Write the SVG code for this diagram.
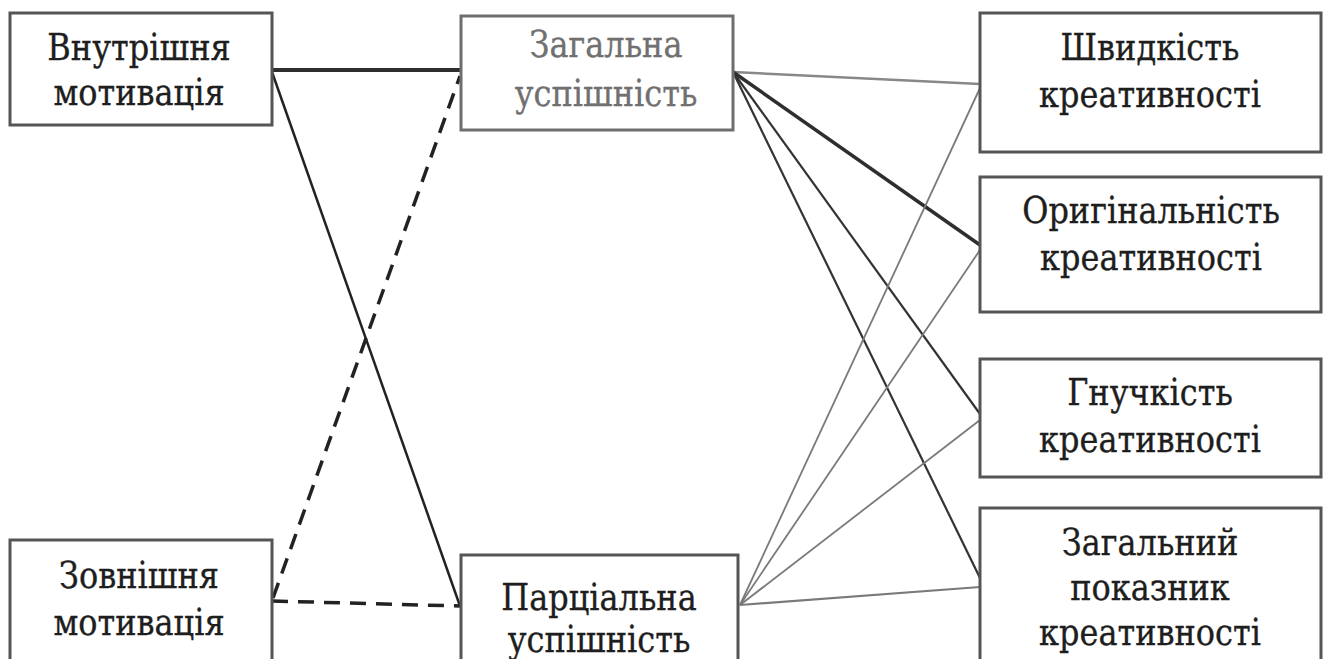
<svg xmlns="http://www.w3.org/2000/svg" width="1325" height="659" viewBox="0 0 1325 659">
  <style>
    .box { fill: #ffffff; stroke: #555555; stroke-width: 3; }
    .box-light { fill: #ffffff; stroke: #6e6e6e; stroke-width: 3; }
    .lbl { font-family: "DejaVu Serif", "Liberation Serif", serif; font-size: 32px; fill: #1e1e1e; text-anchor: middle; stroke: #1e1e1e; stroke-width: 0.3; }
    .lbl-grey { fill: #707070; stroke: #707070; }
    .thick { stroke: #2e2e2e; stroke-width: 4; fill: none; }
    .solid { stroke: #222222; stroke-width: 2.5; fill: none; }
    .dash { stroke: #222222; stroke-width: 3.5; stroke-dasharray: 16 10; fill: none; }
    .thin { stroke: #7a7a7a; stroke-width: 1.8; fill: none; }
  </style>

  <rect width="1325" height="659" fill="#ffffff"/>

  <!-- connectors -->
  <g id="connectors">
    <line class="thick" x1="272" y1="70" x2="460" y2="70"/>
    <line class="solid" x1="272" y1="72" x2="460" y2="606"/>
    <line class="dash" x1="273" y1="598" x2="460" y2="76"/>
    <line class="dash" x1="272" y1="601" x2="460" y2="606"/>

    <line class="thin" x1="733" y1="72" x2="980" y2="84" style="stroke:#888;stroke-width:2.5"/>
    <line class="thick" x1="733" y1="72" x2="980" y2="245" style="stroke-width:3.5"/>
    <line class="solid" x1="733" y1="72" x2="980" y2="414" style="stroke:#333;stroke-width:2.2"/>
    <line class="solid" x1="733" y1="72" x2="980" y2="578" style="stroke:#333;stroke-width:2.2"/>

    <line class="thin" x1="740" y1="605" x2="980" y2="88"/>
    <line class="thin" x1="740" y1="605" x2="980" y2="250"/>
    <line class="thin" x1="740" y1="605" x2="980" y2="420"/>
    <line class="thin" x1="740" y1="605" x2="980" y2="587" style="stroke-width:2.2"/>
  </g>

  <!-- motivation (labels stretched vertically a little) -->
  <g id="intrinsic">
    <rect class="box" x="10" y="13" width="262" height="112"/>
    <text class="lbl" transform="translate(139 60) scale(1 1.15)">Внутрішня</text>
    <text class="lbl" transform="translate(139 105) scale(1 1.15)">мотивація</text>
  </g>
  <g id="extrinsic">
    <rect class="box" x="10" y="540" width="262" height="140"/>
    <text class="lbl" transform="translate(139 588) scale(1 1.15)">Зовнішня</text>
    <text class="lbl" transform="translate(139 635) scale(1 1.15)">мотивація</text>
  </g>

  <!-- success -->
  <g id="general-success">
    <rect class="box-light" x="461" y="16" width="272" height="114"/>
    <text class="lbl lbl-grey" transform="translate(606 57) scale(1 1.15)">Загальна</text>
    <text class="lbl lbl-grey" transform="translate(606 106) scale(1 1.15)">успішність</text>
  </g>
  <g id="partial-success">
    <rect class="box" x="461" y="555" width="277" height="130"/>
    <text class="lbl" transform="translate(599 610) scale(1 1.15)">Парціальна</text>
    <text class="lbl" transform="translate(599 652) scale(1 1.15)">успішність</text>
  </g>

  <!-- creativity -->
  <g id="fluency">
    <rect class="box" x="980" y="13" width="341" height="139"/>
    <text class="lbl" transform="translate(1150 60) scale(1 1.15)">Швидкість</text>
    <text class="lbl" transform="translate(1150 107) scale(1 1.15)">креативності</text>
  </g>
  <g id="originality">
    <rect class="box" x="980" y="177" width="341" height="135"/>
    <text class="lbl" transform="translate(1151 223) scale(1 1.15)">Оригінальність</text>
    <text class="lbl" transform="translate(1151 270) scale(1 1.15)">креативності</text>
  </g>
  <g id="flexibility">
    <rect class="box" x="980" y="359" width="341" height="118"/>
    <text class="lbl" transform="translate(1150 405) scale(1 1.15)">Гнучкість</text>
    <text class="lbl" transform="translate(1150 452) scale(1 1.15)">креативності</text>
  </g>
  <g id="overall">
    <rect class="box" x="980" y="508" width="341" height="170"/>
    <text class="lbl" transform="translate(1150 555) scale(1 1.15)">Загальний</text>
    <text class="lbl" transform="translate(1150 600) scale(1 1.15)">показник</text>
    <text class="lbl" transform="translate(1150 645) scale(1 1.15)">креативності</text>
  </g>
</svg>
